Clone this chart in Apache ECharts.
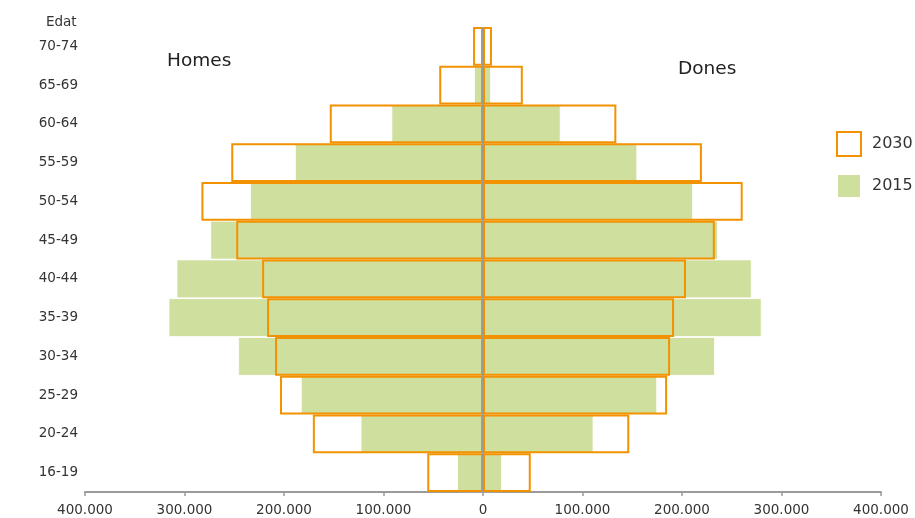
<!DOCTYPE html>
<html>
<head>
<meta charset="utf-8">
<script src="https://cdn.jsdelivr.net/npm/echarts@6/dist/echarts.min.js"></script>
<style>
html,body{margin:0;padding:0;background:#fff;}
#chart{width:915px;height:518px;}
</style>
</head>
<body>
<div id="chart"></div>
<script>
var categories = ['16-19','20-24','25-29','30-34','35-39','40-44','45-49','50-54','55-59','60-64','65-69','70-74'];
var men2015   = [26000,123000,183000,246000,316000,308000,274000,234000,189000,92000,9000,1000];
var women2015 = [19000,111000,175000,233000,280000,270000,236000,211000,155000,78000,8000,1000];
var men2030   = [56000,171000,204000,209000,217000,222000,248000,283000,253000,154000,44000,10000];
var women2030 = [48000,147000,185000,188000,192000,204000,233000,261000,220000,134000,40000,9000];
var xTicks = [-400000,-300000,-200000,-100000,0,100000,200000,300000,400000];

var FONT = '"DejaVu Sans", Verdana, sans-serif';
var GREEN = '#cfdf9d';
var ORANGE = '#f39200';

function fmt(v){
  v = Math.abs(v);
  return String(v).replace(/\B(?=(\d{3})+(?!\d))/g, '.');
}
function neg(a){ return a.map(function(v){ return -v; }); }

var chart = echarts.init(document.getElementById('chart'));
chart.setOption({
  animation: false,
  textStyle: { fontFamily: FONT },
  grid: { left: 85, right: 34, top: 27, bottom: 26, containLabel: false },
  legend: {
    orient: 'vertical',
    left: 831, top: 126,
    itemWidth: 24, itemHeight: 24, itemGap: 16,
    icon: 'rect',
    data: ['2030','2015'],
    textStyle: { fontFamily: FONT, fontSize: 16, color: '#333', padding: [0,0,0,6] }
  },
  xAxis: {
    type: 'value',
    min: xTicks[0], max: xTicks[xTicks.length-1], interval: 100000,
    axisLine: { show: true, onZero: false, lineStyle: { color: '#9a9a9a', width: 2 } },
    axisTick: { show: true, length: 4, lineStyle: { color: '#9a9a9a', width: 1.5 } },
    splitLine: { show: false },
    axisLabel: { formatter: fmt, color: '#333', fontSize: 13.5, fontFamily: FONT, margin: 11 }
  },
  yAxis: {
    type: 'category',
    data: categories,
    axisLine: { show: false },
    axisTick: { show: false },
    axisLabel: { color: '#333', fontSize: 13.5, fontFamily: FONT, margin: 7 }
  },
  graphic: [
    { type: 'text', x: 46, y: 22, style: { text: 'Edat', font: '13.5px ' + FONT, fill: '#333', textVerticalAlign: 'middle' } },
    { type: 'text', x: 167, y: 61, style: { text: 'Homes', font: '18.5px ' + FONT, fill: '#222', textVerticalAlign: 'middle' } },
    { type: 'text', x: 678, y: 69, style: { text: 'Dones', font: '18.5px ' + FONT, fill: '#222', textVerticalAlign: 'middle' } }
  ],
  series: [
    { name: '2015', type: 'bar', stack: 's2015', data: neg(men2015), barWidth: '100%', barCategoryGap: '0%', barGap: '-100%',
      itemStyle: { color: GREEN, borderColor: '#fff', borderWidth: 0.8 } },
    { name: '2015', type: 'bar', stack: 's2015', data: women2015, barWidth: '100%', barCategoryGap: '0%', barGap: '-100%',
      itemStyle: { color: GREEN, borderColor: '#fff', borderWidth: 0.8 } },
    { name: '2030', type: 'bar', stack: 's2030', data: neg(men2030), barWidth: '100%', barCategoryGap: '0%', barGap: '-100%',
      itemStyle: { color: 'rgba(255,255,255,0)', borderColor: ORANGE, borderWidth: 2 } },
    { name: '2030', type: 'bar', stack: 's2030', data: women2030, barWidth: '100%', barCategoryGap: '0%', barGap: '-100%',
      itemStyle: { color: 'rgba(255,255,255,0)', borderColor: ORANGE, borderWidth: 2 },
      markLine: { silent: true, symbol: 'none', label: { show: false },
        lineStyle: { color: '#9a9a9a', width: 2, type: 'solid' },
        data: [{ xAxis: 0 }] } }
  ]
});
</script>
</body>
</html>
